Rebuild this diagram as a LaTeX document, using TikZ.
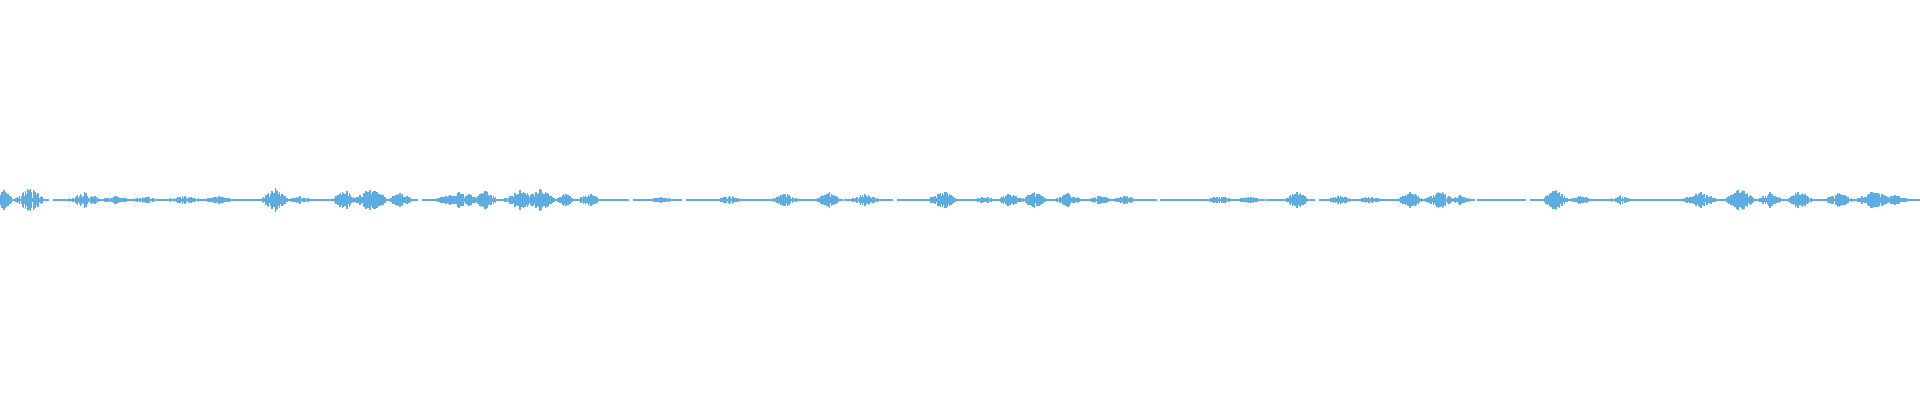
\documentclass[tikz,border=0pt]{standalone}
\definecolor{wavecol}{HTML}{5DADE2}
\tikzset{wave/.style={wavecol, line width=0.012cm}}
\begin{document}
\begin{tikzpicture}[x=0.01cm, y=-0.01cm]
    \useasboundingbox (0,0) rectangle (1920,400);
    \pgfmathsetseed{7}
    % baseline
    \draw[wave, line width=0.015cm, dash pattern=on 14pt off 1pt] (0,200) -- (1920,200);
    % bursts: centre/half height/half width
    \foreach \c/\a/\w in {3/12/10, 30/13/16, 85/9/18, 115/4/20, 145/4/18, 185/4/24,
        220/4/20, 275/13/14, 300/4/16, 345/11/14, 370/13/20, 400/8/14, 445/5/10, 460/10/20,
        485/10/14, 520/11/18, 540/13/16, 565/7/10, 590/7/14, 660/3/20, 730/5/14, 785/7/16,
        828/9/14, 865/7/16, 943/10/16, 985/4/12, 1010/7/14, 1035/9/14, 1068/7/16, 1100/5/14,
        1125/5/14, 1220/5/14, 1250/4/14, 1297/9/14, 1340/5/14, 1370/4/14, 1410/9/14, 1440/9/18,
        1460/5/14, 1555/11/14, 1580/5/14, 1620/5/14, 1700/8/20, 1740/13/16, 1770/8/14,
        1800/10/14, 1840/8/16, 1875/10/20, 1895/5/16}{
        \foreach \i in {-20,...,20}{
            \pgfmathsetmacro{\h}{max(1,\a*(1-abs(\i)/21)*sqrt(rnd))}
            \pgfmathsetmacro{\xx}{\c+\i*\w/20}
            \draw[wave] (\xx,200-\h) -- (\xx,200+\h);
        }
    }
\end{tikzpicture}
\end{document}
